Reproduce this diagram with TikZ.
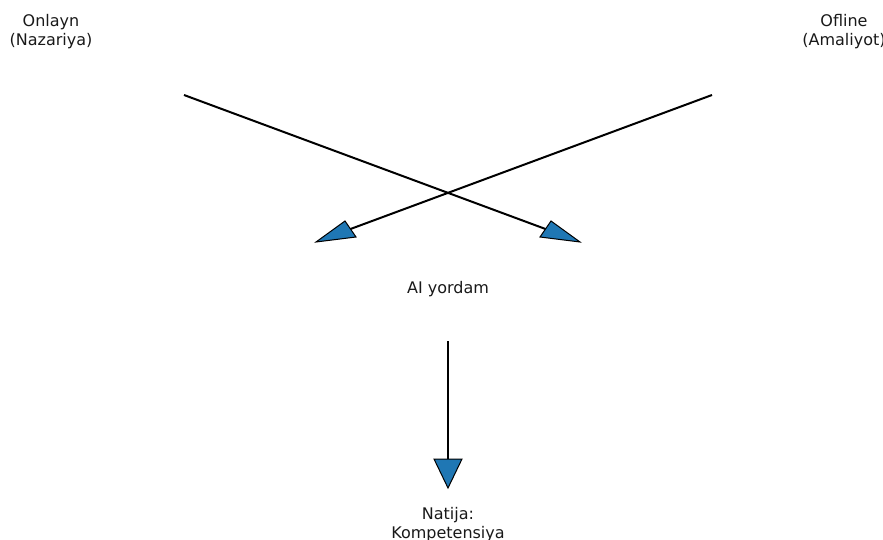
\documentclass[tikz,border=0pt]{standalone}
\usepackage{fontspec}
\setmainfont{DejaVu Sans}
\usetikzlibrary{calc}
\definecolor{mplblue}{HTML}{1F77B4}
\begin{document}
\begin{tikzpicture}[x=1pt,y=-1pt,
  lbl/.style={align=center,inner sep=0pt,font=\fontsize{16}{18.5}\selectfont,text=black!90},
  shaft/.style={draw=black,line width=2pt},
  head/.style={fill=mplblue,draw=black,line width=1pt,line join=miter}]
\clip (0,0) rectangle (883,540);
\useasboundingbox (0,0) rectangle (883,540);
\node[lbl] (onl) at (51,31.5) {Onlayn\\(Nazariya)};
\node[lbl] (ofl) at (844,31.5) {Ofline\\(Amaliyot)};
\node[lbl,anchor=base] (ai) at (448,293) {AI yordam};
\node[lbl] (nat) at (448,524.5) {Natija:\\Kompetensiya};
% start points, tips and head corners
\coordinate (s1) at (184,95);
\coordinate (t1) at (580,242);
\coordinate (c1a) at (551,221);
\coordinate (c1b) at (540,237);
\coordinate (s2) at (712,95);
\coordinate (t2) at (316,242);
\coordinate (c2a) at (345,221);
\coordinate (c2b) at (356,237);
\coordinate (s3) at (448,341);
\coordinate (t3) at (448,488);
\coordinate (c3a) at (434,459);
\coordinate (c3b) at (462,459);
\draw[shaft] (s1) -- ($(c1a)!0.5!(c1b)$);
\draw[shaft] (s2) -- ($(c2a)!0.5!(c2b)$);
\draw[shaft] (s3) -- ($(c3a)!0.5!(c3b)$);
\path[head] (c1a) -- (t1) -- (c1b) -- cycle;
\path[head] (c2a) -- (t2) -- (c2b) -- cycle;
\path[head] (c3a) -- (t3) -- (c3b) -- cycle;
\end{tikzpicture}
\end{document}
